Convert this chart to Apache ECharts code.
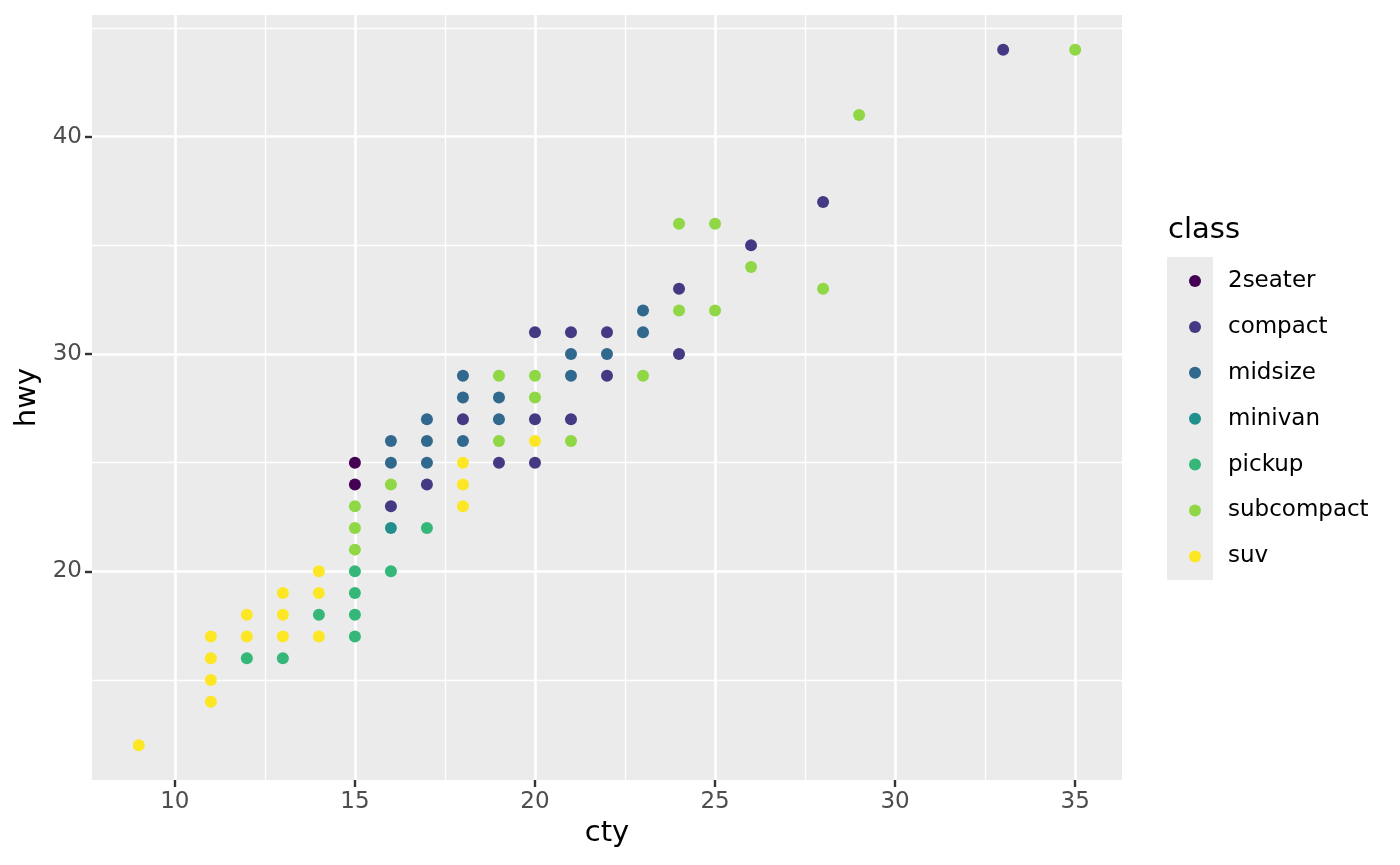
<!DOCTYPE html>
<html><head><meta charset="utf-8">
<script src="https://cdn.jsdelivr.net/npm/echarts@6/dist/echarts.min.js"></script>
<style>html,body{margin:0;padding:0;background:#fff}#c{width:1400px;height:865px}</style>
</head><body><div id="c"></div>
<script>
const classes = ['2seater','compact','midsize','minivan','pickup','subcompact','suv'];
const colors = ['#440154','#443A83','#31688E','#21908C','#35B779','#8FD744','#FDE725'];
// [cty, hwy] pairs
const twoseater = [[15,25],[15,24]];
const compact = [[16,23],[17,24],[18,27],[19,25],[20,31],[20,27],[20,25],[21,31],[21,27],[22,31],[22,29],[24,33],[24,30],[26,35],[28,37],[33,44]];
const midsize = [[16,26],[16,25],[17,27],[17,26],[17,25],[18,29],[18,28],[18,26],[19,28],[19,27],[21,30],[21,29],[22,30],[23,32],[23,31]];
const minivan = [[16,22]];
const pickup = [[12,16],[13,16],[14,18],[15,20],[15,19],[15,18],[15,17],[16,20],[17,22]];
const subcompact = [[15,23],[15,22],[15,21],[16,24],[19,29],[19,26],[20,29],[20,28],[21,26],[23,29],[24,36],[24,32],[25,36],[25,32],[26,34],[28,33],[29,41],[35,44]];
const suv = [[9,12],[11,17],[11,16],[11,15],[11,14],[12,18],[12,17],[13,19],[13,18],[13,17],[14,20],[14,19],[14,17],[18,25],[18,24],[18,23],[20,26]];
const classData = [twoseater, compact, midsize, minivan, pickup, subcompact, suv];

const xTicks = [10,15,20,25,30,35];
const yTicks = [20,30,40];
const xMinor = [12.5,17.5,22.5,27.5,32.5];
const yMinor = [15,25,35,45];
const xRange = [7.7, 36.3];
const yRange = [10.4, 45.6];

const FONT = 'DejaVu Sans';
const chart = echarts.init(document.getElementById('c'), null, {renderer:'canvas'});

const gridLines = [];
xMinor.forEach(v => gridLines.push({xAxis: v, lineStyle:{width:1.3}}));
yMinor.forEach(v => gridLines.push({yAxis: v, lineStyle:{width:1.3}}));
xTicks.forEach(v => gridLines.push({xAxis: v, lineStyle:{width:2.6}}));
yTicks.forEach(v => gridLines.push({yAxis: v, lineStyle:{width:2.6}}));

const series = [{
  name: '_grid', type: 'scatter', data: [], z: 1, silent: true,
  markLine: {
    silent: true, symbol: ['none','none'], animation: false,
    label: {show: false},
    lineStyle: {color: '#FFFFFF', type: 'solid', width: 1},
    emphasis: {disabled: true},
    data: gridLines
  }
}];
classes.forEach((c, i) => {
  series.push({
    name: c, type: 'scatter', z: 5, symbol: 'circle', symbolSize: 12,
    itemStyle: {color: colors[i], opacity: 1},
    data: classData[i]
  });
});

chart.setOption({
  animation: false,
  backgroundColor: '#FFFFFF',
  textStyle: {fontFamily: FONT},
  grid: {left: 92, right: 278, top: 15, bottom: 85, show: true, backgroundColor: '#EBEBEB', borderWidth: 0},
  xAxis: {
    type: 'value', min: xRange[0], max: xRange[1],
    name: 'cty', nameLocation: 'middle', nameGap: 37,
    nameTextStyle: {fontSize: 29, color: '#000', fontFamily: FONT},
    axisLine: {show: false},
    axisTick: {show: true, customValues: xTicks, length: 7, lineStyle: {color: '#333333', width: 2.4}},
    axisLabel: {customValues: xTicks, fontSize: 23, color: '#4D4D4D', margin: 11, fontFamily: FONT},
    splitLine: {show: false}, minorSplitLine: {show: false}
  },
  yAxis: {
    type: 'value', min: yRange[0], max: yRange[1],
    name: 'hwy', nameLocation: 'middle', nameGap: 49, nameRotate: 90,
    nameTextStyle: {fontSize: 29, color: '#000', fontFamily: FONT},
    axisLine: {show: false},
    axisTick: {show: true, customValues: yTicks, length: 7, lineStyle: {color: '#333333', width: 2.4}},
    axisLabel: {customValues: yTicks, fontSize: 23, color: '#4D4D4D', margin: 10, fontFamily: FONT},
    splitLine: {show: false}, minorSplitLine: {show: false}
  },
  legend: {
    data: classes, orient: 'vertical', left: 1184, top: 264.5,
    itemWidth: 12, itemHeight: 12, itemGap: 22.9, icon: 'circle',
    textStyle: {fontSize: 23, color: '#000', fontFamily: FONT, padding: [0,0,0,22]},
    selectedMode: false
  },
  graphic: [
    {type: 'rect', left: 1167, top: 257, z: -1, shape: {width: 46, height: 323}, style: {fill: '#EBEBEB'}},
    {type: 'text', left: 1168, top: 216, style: {text: 'class', fontSize: 29, fill: '#000', fontFamily: FONT}}
  ],
  series: series
});
</script></body></html>
